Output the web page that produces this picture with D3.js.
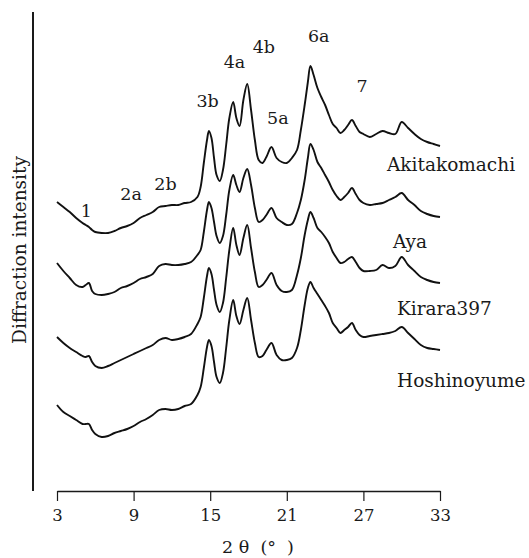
<!DOCTYPE html>
<html>
<head>
<meta charset="utf-8">
<script src="https://cdn.jsdelivr.net/npm/d3@7"></script>
<style>
  body { margin: 0; background: #fff; }
  text { font-family: "DejaVu Serif", serif; fill: #1a1a1a; }
</style>
</head>
<body>
<div class="chart"></div>
<script>
const WIDTH = 529, HEIGHT = 558;

// 2theta sampling (deg), shared by all samples
const twoTheta = [3, 3.5, 4, 4.5, 5, 5.25, 5.5, 5.75, 6, 6.5, 7, 7.5, 8, 8.5, 9, 9.5, 10, 10.5, 11, 11.5,
  12, 12.5, 13, 13.5, 14, 14.25, 14.5, 14.75, 14.9, 15.1, 15.3, 15.5, 15.75, 16, 16.25, 16.5, 16.8, 17.05,
  17.3, 17.6, 17.9, 18.2, 18.5, 18.8, 19.1, 19.4, 19.8, 20.2, 20.6, 21, 21.4, 21.8, 22.1, 22.4, 22.65, 22.85,
  23.1, 23.4, 23.7, 24, 24.3, 24.6, 24.9, 25.2, 25.5, 25.8, 26.1, 26.4, 26.7, 27, 27.5, 28, 28.5, 29, 29.5,
  30, 30.5, 31, 31.5, 32, 32.5, 33];

// intensities (arbitrary units, traces already offset as in the figure)
const akitakomachi = [298, 293, 288, 282, 277, 275, 273, 270, 268, 267, 267, 269, 272, 274, 277, 282, 285, 288, 293, 294,
  295, 295, 297, 298, 303, 313, 337, 360, 369, 362, 342, 325, 319, 330, 355, 382, 398, 382,
  374, 400, 416, 390, 360, 340, 337, 343, 353, 342, 338, 337, 342, 350, 370, 395, 418, 434,
  425, 412, 403, 395, 385, 376, 372, 367, 370, 375, 380, 374, 368, 366, 363, 366, 369, 367, 366,
  378, 372, 366, 361, 358, 356, 354];
const aya = [237, 229, 222, 215, 213, 215, 217, 209, 206, 205, 206, 208, 212, 214, 217, 221, 223, 226, 234, 236,
  235, 235, 236, 238, 245, 250, 268, 290, 298, 292, 278, 264, 257, 264, 285, 310, 325, 315,
  308, 322, 331, 315, 292, 278, 280, 285, 292, 282, 278, 275, 276, 287, 300, 320, 342, 356,
  350, 338, 332, 325, 318, 310, 304, 300, 303, 307, 312, 306, 300, 297, 295, 296, 297, 300, 303,
  307, 300, 295, 289, 286, 284, 283];
const kirara397 = [163, 157, 152, 148, 144, 143, 144, 138, 134, 132, 134, 137, 140, 143, 146, 149, 152, 155, 160, 162,
  160, 161, 163, 166, 176, 183, 202, 224, 232, 226, 210, 195, 188, 197, 222, 250, 272, 255,
  245, 262, 275, 252, 228, 213, 215, 220, 227, 215, 209, 208, 210, 225, 242, 265, 280, 288,
  282, 272, 268, 263, 257, 248, 242, 237, 238, 241, 243, 238, 232, 229, 229, 230, 235, 232, 234,
  243, 235, 229, 223, 220, 218, 217];
const hoshinoyume = [95, 88, 84, 80, 76, 76, 76, 70, 66, 63, 64, 67, 69, 71, 74, 78, 81, 85, 90, 91,
  90, 91, 94, 96, 105, 113, 132, 153, 160, 154, 138, 123, 117, 127, 152, 180, 200, 184,
  176, 190, 202, 180, 157, 143, 144, 150, 157, 145, 140, 140, 142, 152, 170, 195, 212, 218,
  212, 206, 200, 194, 187, 177, 172, 167, 170, 173, 177, 170, 165, 163, 164, 165, 166, 167, 169,
  173, 167, 161, 155, 152, 151, 150];

const sampleNames = ["Akitakomachi", "Aya", "Kirara397", "Hoshinoyume"];
const sampleSeries = [akitakomachi, aya, kirara397, hoshinoyume];
const xTicks = [3, 9, 15, 21, 27, 33];

const peakNames = ["1", "2a", "2b", "3b", "4a", "4b", "5a", "6a", "7"];
const peakPos = [5.3, 8.8, 11.5, 14.8, 16.9, 19.2, 20.3, 23.5, 26.9];
const peakHeight = [283, 300, 310, 393, 432, 447, 376, 458, 408];

var svg = d3
  .select(".chart")
  .append("svg")
  .attr("width", WIDTH)
  .attr("height", HEIGHT);

const x = d3.scaleLinear().domain([3, 33]).range([57, 440]);
const y = d3.scaleLinear().domain([9, 488]).range([491, 12]);

// x axis, ticks pointing down
const xAxis = svg.append("g")
  .attr("transform", `translate(0,${y(9)})`)
  .call(d3.axisBottom(x).tickValues(xTicks).tickSize(10).tickSizeOuter(0).tickPadding(8));
xAxis.select(".domain").attr("stroke", "#1a1a1a").attr("stroke-width", 1.5);
xAxis.selectAll(".tick line").attr("stroke", "#1a1a1a").attr("stroke-width", 1.2);
xAxis.selectAll(".tick text")
  .style("font-family", '"DejaVu Serif", serif')
  .style("font-size", "16.5px")
  .attr("fill", "#1a1a1a");

// y axis is a bare line
svg.append("line")
  .attr("x1", 33).attr("x2", 33)
  .attr("y1", y.range()[0]).attr("y2", y.range()[1])
  .attr("stroke", "#1a1a1a")
  .attr("stroke-width", 2);

const line = d3.line()
  .x((d, i) => x(twoTheta[i]))
  .y(d => y(d))
  .curve(d3.curveCatmullRom.alpha(0.5));

svg.selectAll("path.trace")
  .data(sampleSeries)
  .enter()
  .append("path")
  .attr("class", "trace")
  .attr("d", line)
  .attr("fill", "none")
  .attr("stroke", "#111")
  .attr("stroke-width", 1.9)
  .attr("stroke-linejoin", "round");

// sample names, under the right end of each trace
svg.selectAll("text.sample")
  .data(sampleNames)
  .enter()
  .append("text")
  .attr("class", "sample")
  .attr("x", (d, i) => i == 0 ? 387 : i == 1 ? 393 : 397)
  .attr("y", (d, i) => y(sampleSeries[i][sampleSeries[i].length - 1]) + [25, 31, 32, 37][i])
  .style("font-size", "18.5px")
  .text(d => d);

// peak labels
svg.selectAll("text.peak")
  .data(peakNames)
  .enter()
  .append("text")
  .attr("class", "peak")
  .attr("x", (d, i) => x(peakPos[i]))
  .attr("y", (d, i) => y(peakHeight[i]))
  .attr("text-anchor", "middle")
  .style("font-size", "17.5px")
  .text(d => d);

svg.append("text")
  .attr("transform", "translate(26,250) rotate(-90)")
  .attr("text-anchor", "middle")
  .style("font-size", "18.5px")
  .text("Diffraction intensity");

svg.append("text")
  .attr("x", 258)
  .attr("y", 553)
  .attr("text-anchor", "middle")
  .attr("xml:space", "preserve")
  .style("font-size", "17.5px")
  .style("white-space", "pre")
  .text("2 θ  (°  )");
</script>
</body>
</html>
